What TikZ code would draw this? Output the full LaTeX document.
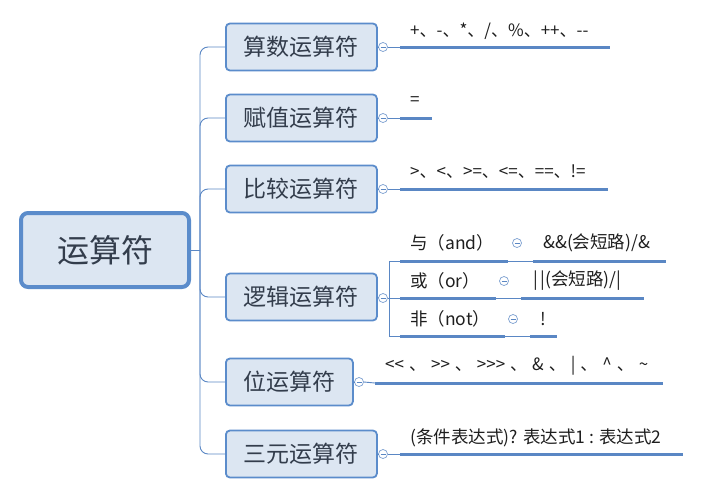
\documentclass[tikz,border=0pt]{standalone}
\usepackage{fontspec}
\setmainfont{Noto Sans CJK SC}[Ligatures=TeXOff]
\definecolor{boxfill}{HTML}{DCE6F2}
\definecolor{boxline}{HTML}{5B8CCB}
\definecolor{lineblue}{HTML}{5A87C4}
\definecolor{txtdark}{HTML}{333D4C}
\definecolor{leaftxt}{HTML}{1E1E1E}
\newcommand\gp{\hspace{5pt}}
\tikzset{
  rootbox/.style={draw=boxline, line width=4pt, fill=boxfill, rounded corners=7pt,
    minimum width=168pt, minimum height=74pt, inner sep=0pt,
    font=\fontsize{32}{36}\selectfont, text=txtdark},
  childbox/.style={draw=boxline, line width=1.8pt, fill=boxfill, rounded corners=4pt,
    minimum height=47pt, inner sep=0pt, anchor=west,
    font=\fontsize{23}{26}\selectfont, text=txtdark},
  branch/.style={draw=lineblue, line width=0.9pt, rounded corners=8pt},
  thinline/.style={draw=lineblue, line width=0.9pt},
  uline/.style={draw=lineblue, line width=3pt},
  leaf/.style={anchor=west, inner sep=0pt, font=\fontsize{17}{20}\selectfont, text=leaftxt},
  subleaf/.style={anchor=west, inner sep=0pt, font=\fontsize{17.5}{20}\selectfont, text=leaftxt},
  cbtn/.style={circle, draw=lineblue!80, line width=0.7pt, fill=white, minimum size=9pt, inner sep=0pt,
    path picture={\draw[lineblue, line width=0.7pt] ([xshift=2pt]path picture bounding box.west) -- ([xshift=-2pt]path picture bounding box.east);}},
}
\begin{document}
\begin{tikzpicture}[x=1pt,y=-1pt]
\useasboundingbox (0,0) rectangle (701,498);
% root
\node[rootbox] (root) at (105,250) {运算符};
\coordinate (trunk) at (200,250);
% children
\node[childbox, minimum width=151pt] (a) at (225,47) {算数运算符};
\node[childbox, minimum width=151pt] (b) at (225,118) {赋值运算符};
\node[childbox, minimum width=151pt] (c) at (225,189) {比较运算符};
\node[childbox, minimum width=151pt] (d) at (225,297) {逻辑运算符};
\node[childbox, minimum width=127pt] (e) at (225,382) {位运算符};
\node[childbox, minimum width=151pt] (f) at (225,454) {三元运算符};
\draw[thinline] (root.east) -- (trunk);
\foreach \n in {a,b,c,d,e,f}{\draw[branch] (trunk) |- (\n.west);}
% collapse buttons
\node[cbtn] (ca) at (383,47) {};
\node[cbtn] (cb) at (383,118) {};
\node[cbtn] (cc) at (383,189) {};
\node[cbtn] (cd) at (383,298) {};
\node[cbtn] (ce) at (359,382) {};
\node[cbtn] (cf) at (383,454) {};
\draw[thinline] (a.east) -- (ca.west);
\draw[thinline] (b.east) -- (cb.west);
\draw[thinline] (c.east) -- (cc.west);
\draw[thinline] (d.east) -- (cd.west);
\draw[thinline] (e.east) -- (ce.west);
\draw[thinline] (f.east) -- (cf.west);
% arithmetic
\coordinate (ua1) at (400,47); \coordinate (ua2) at (610,47);
\draw[thinline] (ca.east) -- (ua1); \draw[uline] (ua1) -- (ua2);
\node[leaf] (ta) at (410,31) {+、-、*、/、\%、++、--};
% assignment
\coordinate (ub1) at (400,118); \coordinate (ub2) at (432,118);
\draw[thinline] (cb.east) -- (ub1); \draw[uline] (ub1) -- (ub2);
\node[leaf] (tb) at (410,101) {=};
% comparison
\coordinate (uc1) at (400,189); \coordinate (uc2) at (608,189);
\draw[thinline] (cc.east) -- (uc1); \draw[uline] (uc1) -- (uc2);
\node[leaf] (tc) at (410,172) {>、<、>=、<=、==、!=};
% logic
\coordinate (dj) at (389,298);
\coordinate (dtop) at (389,261); \coordinate (dbot) at (389,336);
\draw[thinline] (cd.east) -- (dj);
\draw[thinline] (dtop) -- (dbot);
% and
\coordinate (l1a) at (400,261); \coordinate (l1b) at (508,261);
\coordinate (l1c) at (533,261); \coordinate (l1d) at (666,261);
\draw[thinline] (dtop) -- (l1a); \draw[uline] (l1a) -- (l1b);
\draw[thinline] (l1b) -- (l1c); \draw[uline] (l1c) -- (l1d);
\node[subleaf] (t1) at (410,243) {与（and）};
\node[cbtn] (s1) at (517,243) {};
\node[subleaf] (v1) at (543,243) {\&\&(会短路)/\&};
% or
\coordinate (l2a) at (400,298); \coordinate (l2b) at (496,298);
\coordinate (l2c) at (521,298); \coordinate (l2d) at (644,298);
\draw[thinline] (dj) -- (l2a); \draw[uline] (l2a) -- (l2b);
\draw[thinline] (l2b) -- (l2c); \draw[uline] (l2c) -- (l2d);
\node[subleaf] (t2) at (410,281) {或（or）};
\node[cbtn] (s2) at (504,281) {};
\node[subleaf] (v2) at (533,281) {|\,|(会短路)/|};
% not
\coordinate (l3a) at (400,336); \coordinate (l3b) at (505,336);
\coordinate (l3c) at (530,336); \coordinate (l3d) at (557,336);
\draw[thinline] (dbot) -- (l3a); \draw[uline] (l3a) -- (l3b);
\draw[thinline] (l3b) -- (l3c); \draw[uline] (l3c) -- (l3d);
\node[subleaf] (t3) at (410,319) {非（not）};
\node[cbtn] (s3) at (513,319) {};
\node[subleaf] (v3) at (540,319) {!};
% bit
\coordinate (ue1) at (375,383); \coordinate (ue2) at (663,383);
\draw[thinline] (ce.east) -- (ue1); \draw[uline] (ue1) -- (ue2);
\node[leaf] (te) at (385,366) {<<\gp、\gp>>\gp、\gp>>>\gp、\gp\&\gp、\gp|\gp、\gp\textasciicircum\gp、\gp\textasciitilde};
% ternary
\coordinate (uf1) at (400,454); \coordinate (uf2) at (683,454);
\draw[thinline] (cf.east) -- (uf1); \draw[uline] (uf1) -- (uf2);
\node[subleaf] (tf) at (410,438) {(条件表达式)? 表达式1 : 表达式2};
\end{tikzpicture}
\end{document}
